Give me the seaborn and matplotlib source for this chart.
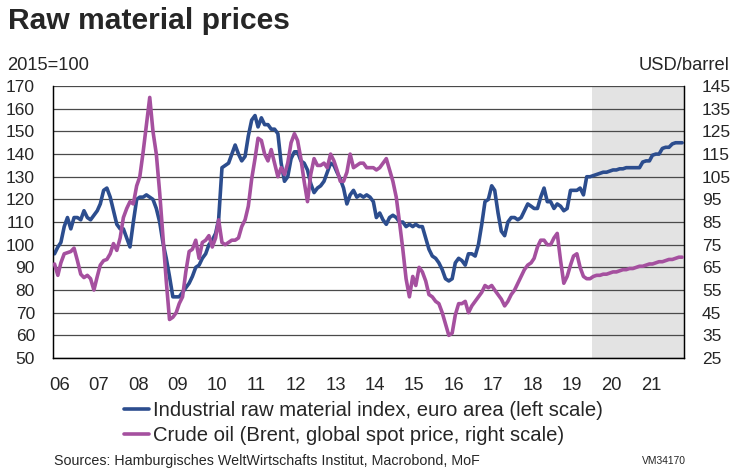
import pandas as pd
import seaborn as sns
import matplotlib.pyplot as plt
from matplotlib.lines import Line2D

# Industrial raw material index, euro area (2015=100), monthly 2006-2021
raw_index = [
    96, 99, 101, 108, 112, 107, 112, 112, 111, 115, 112, 111,        # 2006
    113, 115, 118, 124, 125, 121, 115, 109, 107, 107, 103, 99,       # 2007
    110, 120, 121, 121, 122, 121, 120, 116, 110, 101, 94, 86,        # 2008
    77, 77, 77, 79, 81, 83, 86, 90, 91, 94, 96, 100,                 # 2009
    102, 105, 111, 134, 135, 136, 140, 144, 140, 137, 139, 148,      # 2010
    155, 157, 152, 156, 153, 153, 151, 151, 149, 136, 128, 130,      # 2011
    138, 141, 141, 137, 136, 133, 127, 123, 125, 126, 128, 132,      # 2012
    136, 135, 132, 129, 125, 118, 122, 124, 121, 122, 121, 122,      # 2013
    121, 119, 112, 114, 111, 109, 112, 113, 112, 110, 110, 108,      # 2014
    109, 108, 109, 108, 108, 103, 98, 95, 94, 92, 89, 85,            # 2015
    84, 85, 92, 94, 93, 91, 96, 96, 95, 100, 109, 119,               # 2016
    120, 126, 124, 114, 106, 104, 110, 112, 112, 111, 112, 115,      # 2017
    118, 117, 116, 116, 121, 125, 119, 119, 116, 118, 117, 115,      # 2018
    116, 124, 124, 124, 125, 122, 130, 130, 130.5, 131, 131.5, 132,  # 2019
    132, 132.5, 133, 133, 133.5, 133.5, 134, 134, 134, 134, 134, 136.5,  # 2020
    137, 137, 139.5, 140, 140, 142.5, 143, 143, 144.5, 145, 145, 145,    # 2021
]

# Crude oil, Brent spot price (USD/barrel)
brent = [
    66.5, 61.5, 67, 71, 71.5, 72, 73.5, 68, 62, 60.5, 61.5, 60,      # 2006
    55, 61, 66, 68, 68.5, 71, 75.5, 72.5, 78, 87, 91, 94,            # 2007
    93, 101, 105, 116, 128, 140, 125, 115, 98, 79, 59, 42,           # 2008
    43, 45, 49, 52, 63, 72, 73, 77, 69, 76, 77, 79,                  # 2009
    74, 78, 86, 76, 75, 76, 77, 77, 78, 83, 86, 92,                  # 2010
    104, 113, 122, 121, 115, 112, 117, 111, 105, 109, 106, 111,      # 2011
    120, 124, 121, 113, 103, 94, 106, 113, 110, 110, 111, 109,       # 2012
    115, 112, 108, 103, 103, 107, 115, 109, 110, 111, 111, 109,      # 2013
    109, 109, 108, 109, 111, 113, 108, 103, 96, 85, 73, 60,          # 2014
    52, 61, 57, 65, 63, 59, 53, 52, 50, 49, 45, 40,                  # 2015
    35, 36, 44, 49, 49, 50, 45, 48, 50, 52, 54, 57,                  # 2016
    56, 57, 55, 53, 51, 48, 50, 53, 55, 58, 61, 64,                  # 2017
    66, 67, 69, 74, 77, 77, 75, 75, 78, 80, 68, 58,                  # 2018
    61, 66, 70, 71, 65, 61, 60, 60, 61, 61.5, 61.5, 62,              # 2019
    62, 62.5, 63, 63, 63.5, 64, 64, 64.5, 64.5, 65, 65.5, 65.5,      # 2020
    66, 66.5, 66.5, 67, 67.5, 67.5, 68, 68.5, 68.5, 69, 69.5, 69.5,  # 2021
]

years = list(range(2006, 2022))
year_labels = [str(y)[2:] for y in years]
forecast_start = "2019-09-05"

left_ticks = list(range(50, 171, 10))
right_ticks = list(range(25, 146, 10))

blue = "#2c4d8e"
pink = "#a5509f"

months = pd.date_range("2006-01-01", periods=len(raw_index), freq="MS") + pd.Timedelta(days=14)
df = pd.DataFrame({"date": months, "raw": raw_index, "brent": brent})

sns.set_style("white")
plt.rcParams["font.family"] = ["Liberation Sans", "DejaVu Sans"]

fig = plt.figure(figsize=(7.32, 4.68), dpi=100)
ax = fig.add_axes([0.0724, 0.235, 0.862, 0.581])
ax2 = ax.twinx()

x0 = pd.Timestamp("2006-01-01")
x1 = pd.Timestamp("2022-01-01")
ax.axvspan(pd.Timestamp(forecast_start), x1, color="#e3e3e3", lw=0, zorder=0)

for t in left_ticks:
    ax.axhline(t, color="#4a4a4a", lw=0.9, zorder=1)

sns.lineplot(data=df, x="date", y="raw", ax=ax, color=blue, lw=2.6, zorder=3)
sns.lineplot(data=df, x="date", y="brent", ax=ax2, color=pink, lw=2.6, zorder=3)

ax.set_xlim(x0, x1)
ax.set_ylim(50, 170)
ax2.set_ylim(25, 145)
ax.set_yticks(left_ticks)
ax2.set_yticks(right_ticks)
ax.set_xlabel("")
ax.set_ylabel("")
ax2.set_ylabel("")

ax.tick_params(axis="y", length=0, pad=13, labelsize=12.5)
ax2.tick_params(axis="y", length=0, pad=13, labelsize=12.5)

ax.set_xticks([pd.Timestamp(f"{y}-01-01") for y in years + [2022]])
ax.set_xticklabels([])
ax.set_xticks([pd.Timestamp(f"{y}-03-01") for y in years], minor=True)
ax.set_xticklabels(year_labels, minor=True)
ax.tick_params(axis="x", which="major", direction="in", length=4, width=0.8, color="black")
ax.tick_params(axis="x", which="minor", length=0, pad=14, labelsize=13.3)

for a in (ax, ax2):
    for s in ("left", "right", "bottom"):
        a.spines[s].set_visible(True)
        a.spines[s].set_color("black")
        a.spines[s].set_linewidth(0.9)
    a.spines["top"].set_visible(False)
ax.set_zorder(0)
ax2.set_zorder(1)
ax2.patch.set_visible(False)

fig.text(0.011, 0.955, "Raw material prices", fontsize=21.6, fontweight="bold", va="center", ha="left")
fig.text(0.010, 0.861, "2015=100", fontsize=13.2, va="center", ha="left")
fig.text(0.997, 0.861, "USD/barrel", fontsize=13.2, va="center", ha="right")

handles = [Line2D([], [], color=blue, lw=2.6), Line2D([], [], color=pink, lw=2.6)]
labels = ["Industrial raw material index, euro area (left scale)",
          "Crude oil (Brent, global spot price, right scale)"]
fig.legend(handles, labels, loc="upper left", bbox_to_anchor=(0.169, 0.143),
           frameon=False, fontsize=14.6, handlelength=1.25, handletextpad=0.18,
           labelspacing=0.3, borderaxespad=0, borderpad=0)

fig.text(0.074, 0.015, "Sources: Hamburgisches WeltWirtschafts Institut, Macrobond, MoF",
         fontsize=10.3, va="center", ha="left")
fig.text(0.937, 0.015, "VM34170", fontsize=7.4, va="center", ha="right")

fig.savefig("out.png", dpi=100)
